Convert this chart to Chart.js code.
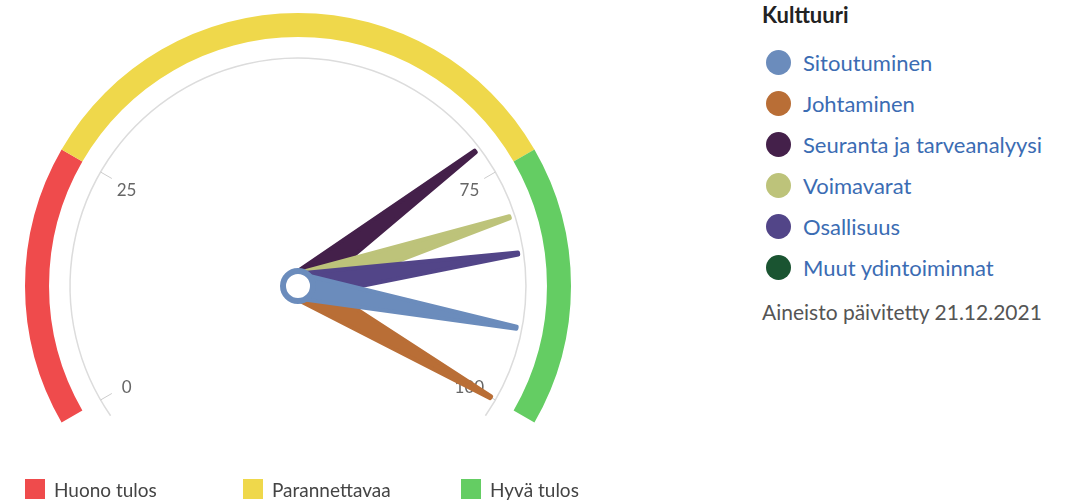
<!DOCTYPE html>
<html lang="fi">
<head>
<meta charset="utf-8">
<title>Kulttuuri</title>
<script src="https://cdn.jsdelivr.net/npm/chart.js@4.4.1/dist/chart.umd.min.js"></script>
<style>
    html, body { margin: 0; padding: 0; background: #fff; }
    body { width: 1077px; height: 502px; position: relative; overflow: hidden; font-family: Lato, "Open Sans", sans-serif; }
    #gauge-wrap { position: absolute; left: 0; top: 0; width: 600px; height: 502px; }
    #band-legend { position: absolute; left: 25px; top: 479px; display: flex; }
    .band-item { width: 218px; height: 20px; display: flex; align-items: center; font-size: 19px; color: #444; }
    .band-item .sw { width: 20px; height: 20px; margin-right: 9px; flex: none; }
    #side { position: absolute; left: 762px; top: 0; }
    #side h3 { margin: 0; height: 30px; line-height: 30px; font-size: 22px; font-weight: 700; color: #222; }
    #side ul { list-style: none; margin: 12px 0 0 0; padding: 0; }
    #side li { height: 41px; display: flex; align-items: center; font-size: 22px; color: #3b6cb3; }
    #side li .dot { width: 25px; height: 25px; border-radius: 50%; margin-left: 4px; margin-right: 12px; flex: none; }
    #side .note { margin-top: 9px; height: 30px; line-height: 30px; font-size: 21px; color: #555; }
</style>
</head>
<body>
<div id="gauge-wrap"><canvas id="gauge"></canvas></div>
<div id="band-legend"></div>
<div id="side">
    <h3>Kulttuuri</h3>
    <ul id="needle-legend"></ul>
    <div class="note">Aineisto päivitetty 21.12.2021</div>
</div>
<script>
// ── Asteikon vyöhykkeet ──────────────────────────────────────────────
const bandLabels = ['Huono tulos', 'Parannettavaa', 'Hyvä tulos'];
const bandValues = [25, 50, 25];
const bandColors = ['#ef4b4c', '#efd84b', '#64cd63'];

// ── Osoittimet (sarjat) ──────────────────────────────────────────────
const needleLabels = ['Sitoutuminen', 'Johtaminen', 'Seuranta ja tarveanalyysi', 'Voimavarat', 'Osallisuus', 'Muut ydintoiminnat'];
const needleValues = [92, 100, 72, 80, 84, null];
const needleColors = ['#6b8cbc', '#b96e36', '#44204a', '#bdc37a', '#524588', '#1a5431'];

const tickValues = [0, 25, 75, 100];

const ROTATION = -120;
const SWEEP    = 240;

// legends (HTML)
document.getElementById('band-legend').innerHTML = bandLabels.map((l, i) =>
    `<div class="band-item"><span class="sw" style="background:${bandColors[i]}"></span>${l}</div>`).join('');
document.getElementById('needle-legend').innerHTML = needleLabels.map((l, i) =>
    `<li><span class="dot" style="background:${needleColors[i]}"></span>${l}</li>`).join('');

const gaugeParts = {
    id: 'gaugeParts',
    afterDatasetsDraw(chart) {
        const arc = chart.getDatasetMeta(0).data[0];
        if (!arc) return;
        const { x: cx, y: cy, outerRadius: R } = arc.getProps(['x', 'y', 'outerRadius'], true);
        const ctx   = chart.ctx;
        const max   = bandValues.reduce((a, b) => a + b, 0);
        const start = (ROTATION - 90) * Math.PI / 180;
        const sweep = SWEEP * Math.PI / 180;
        const toAng = v => start + (v / max) * sweep;
        const ext   = 4.7 * Math.PI / 180;

        ctx.save();
        // inner grey scale line
        const rLine = R * 0.835;
        ctx.beginPath();
        ctx.arc(cx, cy, rLine, start - ext, start + sweep + ext);
        ctx.strokeStyle = '#dcdcdc';
        ctx.lineWidth = 1.5;
        ctx.stroke();

        // ticks + labels
        ctx.font = '17px Lato, "Open Sans", sans-serif';
        ctx.fillStyle = '#666';
        ctx.textAlign = 'center';
        ctx.textBaseline = 'middle';
        tickValues.forEach(t => {
            const a = toAng(t);
            ctx.beginPath();
            ctx.moveTo(cx + Math.cos(a) * rLine, cy + Math.sin(a) * rLine);
            ctx.lineTo(cx + Math.cos(a) * (rLine - 13), cy + Math.sin(a) * (rLine - 13));
            ctx.strokeStyle = '#cccccc';
            ctx.lineWidth = 1;
            ctx.stroke();
            ctx.fillText(String(t), cx + Math.cos(a) * (R * 0.725), cy + Math.sin(a) * (R * 0.725) + 3);
        });

        // needles: first series drawn on top
        const order = needleValues.map((_, i) => i).slice(1).concat(0);
        const len = R * 0.815;
        order.forEach(i => {
            const v = needleValues[i];
            if (v == null) return;
            ctx.save();
            ctx.translate(cx, cy);
            ctx.rotate(toAng(v));
            ctx.beginPath();
            ctx.moveTo(0, -12.5);
            ctx.lineTo(len, -1);
            ctx.lineTo(len, 1);
            ctx.lineTo(0, 12.5);
            ctx.closePath();
            ctx.fillStyle = needleColors[i];
            ctx.strokeStyle = needleColors[i];
            ctx.lineWidth = 4;
            ctx.lineJoin = 'round';
            ctx.fill();
            ctx.stroke();
            ctx.restore();
        });

        // pivot
        ctx.beginPath();
        ctx.arc(cx, cy, 15, 0, Math.PI * 2);
        ctx.fillStyle = '#fff';
        ctx.fill();
        ctx.lineWidth = 6;
        ctx.strokeStyle = needleColors[0];
        ctx.stroke();
        ctx.restore();
    }
};

new Chart(document.getElementById('gauge'), {
    type: 'doughnut',
    data: {
        labels: bandLabels,
        datasets: [{
            data: bandValues,
            backgroundColor: bandColors,
            borderWidth: 0,
            hoverOffset: 0
        }]
    },
    options: {
        responsive: true,
        maintainAspectRatio: false,
        animation: false,
        events: [],
        rotation: ROTATION,
        circumference: SWEEP,
        cutout: '91.2%',
        layout: { padding: { left: 25, right: 29, top: 13, bottom: 79.5 } },
        plugins: { legend: { display: false }, tooltip: { enabled: false } }
    },
    plugins: [gaugeParts]
});
</script>
</body>
</html>
